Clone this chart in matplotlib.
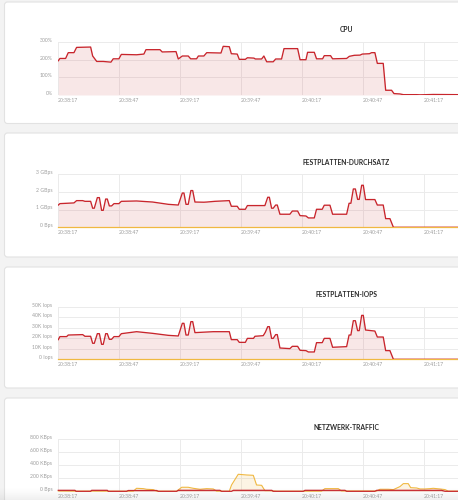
import numpy as np
import matplotlib
matplotlib.use("Agg")
import matplotlib.pyplot as plt
from matplotlib.patches import FancyBboxPatch
import matplotlib.transforms as mtransforms

# ---------------- data ----------------
time_labels = ['20:38:17', '20:38:47', '20:39:17', '20:39:47', '20:40:17', '20:40:47', '20:41:17']
time_ticks = [0, 30, 60, 90, 120, 150, 180]

cpu_t = [0.0, 0.8, 3.6, 4.9, 7.7, 9.0, 15.9, 16.9, 18.9, 22.1, 25.9, 27.0, 29.8, 31.0, 38.5, 42.1,
         43.1, 50.0, 51.1, 57.9, 59.0, 61.0, 63.9, 65.1, 68.0, 68.9, 71.6, 73.0, 80.0, 81.1, 84.1,
         85.1, 88.0, 89.0, 92.0, 93.0, 96.2, 96.9, 100.0, 101.1, 102.5, 105.7, 106.9, 109.8, 111.0,
         117.7, 118.9, 121.8, 122.6, 125.9, 127.0, 130.0, 130.8, 133.9, 134.9, 141.8, 143.1, 145.6,
         148.4, 149.5, 153.0, 154.1, 155.7, 156.9, 159.8, 161.0, 163.9, 165.1, 168.0, 169.7, 176.2,
         177.9, 184.4, 196.6, 205.0]
cpu_v = [195, 208, 208, 241, 241, 271, 273, 222, 191, 191, 187, 206, 206, 231, 229, 233,
         258, 258, 245, 247, 205, 222, 222, 206, 206, 222, 222, 241, 239, 277, 275,
         235, 233, 203, 203, 212, 210, 205, 205, 222, 189, 189, 205, 205, 264,
         264, 201, 201, 243, 243, 206, 206, 224, 224, 206, 208, 220, 226,
         227, 233, 235, 241, 241, 180, 180, 27, 27, 8, 6, 2, 2,
         1, 3, 2, 2]
cpu_ticks = [0, 100, 200, 300]
cpu_labels = ['0%', '100%', '200%', '300%']

disk_t = [0.0, 0.8, 7.7, 9.0, 12.0, 13.1, 15.9, 16.9, 17.7, 19.2, 20.2, 21.3, 22.1, 23.3, 24.1,
          25.1, 26.2, 27.4, 29.8, 31.0, 38.5, 46.4, 54.1, 59.0, 61.0, 61.8, 62.8, 63.9, 65.2,
          66.1, 67.2, 71.6, 73.0, 77.0, 84.1, 85.1, 88.0, 89.0, 92.0, 93.0, 101.6, 103.0, 103.8,
          104.9, 105.7, 106.9, 107.7, 109.0, 113.9, 115.1, 117.7, 118.9, 121.8, 123.0, 125.9,
          127.0, 129.8, 130.8, 133.6, 134.9, 141.8, 143.0, 143.9, 145.1, 146.1, 147.2, 148.0,
          149.2, 150.0, 151.1, 155.7, 156.9, 159.8, 161.0, 163.1, 164.8, 205.0]
disk_v = [1.26, 1.34, 1.38, 1.51, 1.51, 1.47, 1.47, 1.08, 1.08, 1.68, 1.68, 0.96, 0.96, 1.60, 1.60,
          1.21, 1.21, 1.34, 1.34, 1.47, 1.49, 1.43, 1.30, 1.26, 1.94, 1.94, 1.30, 1.30, 2.08,
          2.08, 1.43, 1.42, 1.43, 1.47, 1.51, 1.19, 1.19, 1.02, 1.02, 1.23, 1.23, 1.70, 1.70,
          1.08, 1.08, 1.26, 1.26, 0.74, 0.74, 0.92, 0.92, 0.66, 0.64, 0.53, 0.53,
          1.02, 1.02, 1.25, 1.25, 0.74, 0.74, 1.36, 1.36, 2.17, 2.17, 1.58, 1.58,
          2.38, 2.38, 1.57, 1.57, 1.26, 1.26, 0.49, 0.49, 0.0, 0.0]
disk_read_v = [0.0, 0.0]
disk_read_t = [0.0, 205.0]
disk_ticks = [0, 1, 2, 3]
disk_labels = ['0 Bps', '1 GBps', '2 GBps', '3 GBps']

iops_t = [0.0, 0.8, 4.1, 4.9, 12.0, 13.1, 15.9, 16.9, 17.7, 19.2, 20.2, 21.3, 22.1, 23.3, 24.1,
          25.1, 26.2, 27.4, 29.8, 31.0, 38.5, 46.4, 54.1, 59.0, 61.0, 61.8, 62.8, 63.9, 65.2,
          66.1, 67.2, 76.2, 84.1, 85.1, 88.0, 89.0, 92.0, 93.0, 96.0, 96.7, 100.8, 101.8, 103.0,
          103.8, 104.9, 105.7, 106.9, 107.7, 109.0, 113.9, 115.1, 117.7, 118.9, 121.8, 123.0,
          125.9, 127.0, 129.8, 130.8, 133.6, 134.9, 141.8, 143.0, 143.9, 145.1, 146.1, 147.2,
          148.0, 149.2, 150.0, 151.1, 155.7, 156.9, 159.8, 161.0, 163.1, 164.8, 205.0]
iops_v = [18.8, 21.7, 21.7, 23.2, 23.6, 22.0, 22.0, 15.3, 15.3, 24.5, 24.5, 14.3, 14.3, 24.5, 24.5,
          19.1, 19.1, 21.7, 21.7, 24.5, 26.4, 24.8, 22.9, 22.3, 34.4, 34.4, 23.2, 23.2, 36.0,
          36.0, 25.5, 26.4, 26.4, 18.8, 18.8, 16.2, 16.2, 20.0, 20.0, 22.0, 22.6, 25.8, 31.2,
          31.2, 20.0, 20.0, 23.6, 23.6, 10.8, 10.2, 12.4, 12.4, 8.6, 8.3, 7.0,
          7.0, 15.9, 15.9, 20.0, 20.0, 11.5, 12.1, 23.2, 23.2, 36.9, 36.9, 27.4,
          27.4, 42.0, 42.0, 28.0, 27.0, 21.3, 21.3, 8.3, 8.3, 0.0, 0.0]
iops_read_t = [0.0, 205.0]
iops_read_v = [0.0, 0.0]
iops_ticks = [0, 10, 20, 30, 40, 50]
iops_labels = ['0 Iops', '10K Iops', '20K Iops', '30K Iops', '40K Iops', '50K Iops']

net_in_t = [0.0, 8.7, 16.4, 24.1, 36.9, 38.5, 41.8, 43.4, 46.7, 48.4, 58.2, 60.7, 63.9, 66.4, 69.7,
            73.0, 76.2, 77.9, 84.1, 85.2, 88.5, 92.6, 95.9, 97.5, 100.0, 101.6, 104.1, 107.4,
            129.5, 131.1, 137.7, 139.3, 156.6, 158.2, 162.3, 164.8, 168.0, 169.7, 172.1, 173.3,
            176.2, 177.9, 180.3, 182.8, 184.4, 187.7, 190.2, 191.8, 205.0]
net_in_v = [5, 2, 3, 2, 2, 46, 41, 31, 26, 2, 2, 62, 62, 46, 31,
            41, 36, 2, 2, 97, 262, 251, 246, 97, 92, 10, 10, 2,
            2, 41, 41, 5, 5, 31, 31, 26, 72, 118, 118, 56,
            51, 36, 36, 41, 46, 36, 26, 2, 2]
net_out_t = [0.0, 8.2, 8.7, 15.9, 16.4, 24.1, 24.6, 33.6, 34.4, 48.4, 49.2, 58.2, 59.0, 79.5, 80.3,
             85.2, 86.1, 105.0, 105.7, 120.5, 121.3, 141.0, 141.8, 155.7, 156.6, 188.5, 190.2, 205.0]
net_out_v = [15, 15, 0, 0, 15, 15, 0, 0, 12, 12, 0, 0, 15, 15, 0,
             0, 15, 15, 0, 0, 15, 15, 0, 0, 15, 15, 0, 0]
net_ticks = [0, 200, 400, 600, 800]
net_labels = ['0 Bps', '200 KBps', '400 KBps', '600 KBps', '800 KBps']

titles = ['CPU', 'FESTPLATTEN-DURCHSATZ', 'FESTPLATTEN-IOPS', 'NETZWERK-TRAFFIC']

# ---------------- style ----------------
W, H = 458, 500
RED = '#c8252c'
YEL = '#f0b841'
GRID = '#ebebeb'
TICK = '#9e9e9e'
PAGE = '#f3f3f3'
FONT = ['Lato', 'DejaVu Sans']

fig = plt.figure(figsize=(W / 100, H / 100), dpi=100)
fig.patch.set_facecolor(PAGE)

# background axes in pixel coordinates
bg = fig.add_axes([0, 0, 1, 1], zorder=0)
bg.set_xlim(0, W)
bg.set_ylim(H, 0)
bg.axis('off')
cards = [(2, 123.5), (133, 257), (267, 388), (398, 530)]
for (y0, y1) in cards:
    bg.add_patch(FancyBboxPatch((4.5, y0), 500, y1 - y0,
                                boxstyle='round,pad=0,rounding_size=3',
                                facecolor='white', edgecolor='#e2e2e2', linewidth=0.8))

PX_PER_S = 61.0 / 30.0
X0 = 58.3
XR = 461.0
xmax = (XR - X0) / PX_PER_S

panels = [
    dict(top=42.3, bot=95.0, title_y=30.0, ymax=300, ticks=cpu_ticks, labels=cpu_labels),
    dict(top=174.3, bot=227.3, title_y=162.7, ymax=3, ticks=disk_ticks, labels=disk_labels),
    dict(top=307.0, bot=359.3, title_y=294.3, ymax=50, ticks=iops_ticks, labels=iops_labels),
    dict(top=439.3, bot=491.3, title_y=427.3, ymax=800, ticks=net_ticks, labels=net_labels),
]

axes = []
for i, p in enumerate(panels):
    ax = fig.add_axes([X0 / W, 1 - p['bot'] / H, (XR - X0) / W, (p['bot'] - p['top']) / H], zorder=2)
    ax.set_facecolor('none')
    ax.set_xlim(0, xmax)
    ax.set_ylim(0, p['ymax'])
    for s in ax.spines.values():
        s.set_visible(False)
    ax.set_yticks(p['ticks'])
    ax.set_yticklabels(p['labels'])
    ax.set_xticks(time_ticks)
    ax.set_xticklabels(time_labels)
    ax.tick_params(axis='both', length=0, labelsize=3.7, labelcolor=TICK)
    ax.tick_params(axis='y', pad=4.2)
    ax.tick_params(axis='x', pad=2.0)
    for lbl in ax.get_yticklabels():
        lbl.set_family(FONT)
        lbl.set_transform(lbl.get_transform() + mtransforms.ScaledTranslation(0, 2.3 / 100, fig.dpi_scale_trans))
    for lbl in ax.get_xticklabels():
        lbl.set_family(FONT)
        lbl.set_horizontalalignment('left')
        lbl.set_transform(lbl.get_transform() + mtransforms.ScaledTranslation(-0.5 / 100, 0, fig.dpi_scale_trans))
    ax.grid(True, color=GRID, linewidth=0.7)
    ax.set_axisbelow(True)
    fig.text(346 / W, 1 - p['title_y'] / H, titles[i], ha='center', va='center',
             fontsize=4.9, fontweight='bold', color='#2b2b2b', family=FONT)
    axes.append(ax)

# CPU
ax = axes[0]
ax.fill_between(cpu_t, cpu_v, 0, color=RED, alpha=0.11, lw=0, zorder=2)
ax.plot(cpu_t, cpu_v, color=RED, lw=0.95, zorder=3, solid_joinstyle='round')

# Disk throughput
ax = axes[1]
ax.fill_between(disk_t, disk_v, 0, color=RED, alpha=0.11, lw=0, zorder=2)
ax.plot(disk_t, disk_v, color=RED, lw=0.95, zorder=3, solid_joinstyle='round')
ax.plot(disk_read_t, disk_read_v, color=YEL, lw=0.9, zorder=2.5, clip_on=False)

# IOPS
ax = axes[2]
ax.fill_between(iops_t, iops_v, 0, color=RED, alpha=0.11, lw=0, zorder=2)
ax.plot(iops_t, iops_v, color=RED, lw=0.95, zorder=3, solid_joinstyle='round')
ax.plot(iops_read_t, iops_read_v, color=YEL, lw=0.9, zorder=2.5, clip_on=False)

# Network
ax = axes[3]
ax.fill_between(net_in_t, net_in_v, 0, color=YEL, alpha=0.14, lw=0, zorder=2)
ax.fill_between(net_out_t, net_out_v, 0, color=RED, alpha=0.18, lw=0, zorder=2.2)
ax.plot(net_in_t, net_in_v, color=YEL, lw=0.8, zorder=3, clip_on=False)
ax.plot(net_out_t, net_out_v, color=RED, lw=0.9, zorder=3.2, clip_on=False)

# bottom fade shadow overlay
ov = fig.add_axes([0, 0, 1, 1], zorder=10)
ov.set_xlim(0, W)
ov.set_ylim(H, 0)
ov.axis('off')
ov.patch.set_alpha(0)
n = 64
alpha = np.linspace(0, 0.22, n) ** 1.3
grad = np.zeros((n, 2, 4))
grad[:, :, 0] = 0.55
grad[:, :, 1] = 0.55
grad[:, :, 2] = 0.55
grad[:, :, 3] = alpha[:, None]
ov.imshow(grad, extent=[0, W, 500, 487], aspect='auto', interpolation='bilinear', origin='upper')
ov.set_xlim(0, W)
ov.set_ylim(H, 0)

fig.savefig('out.png', dpi=100, facecolor=fig.get_facecolor())
